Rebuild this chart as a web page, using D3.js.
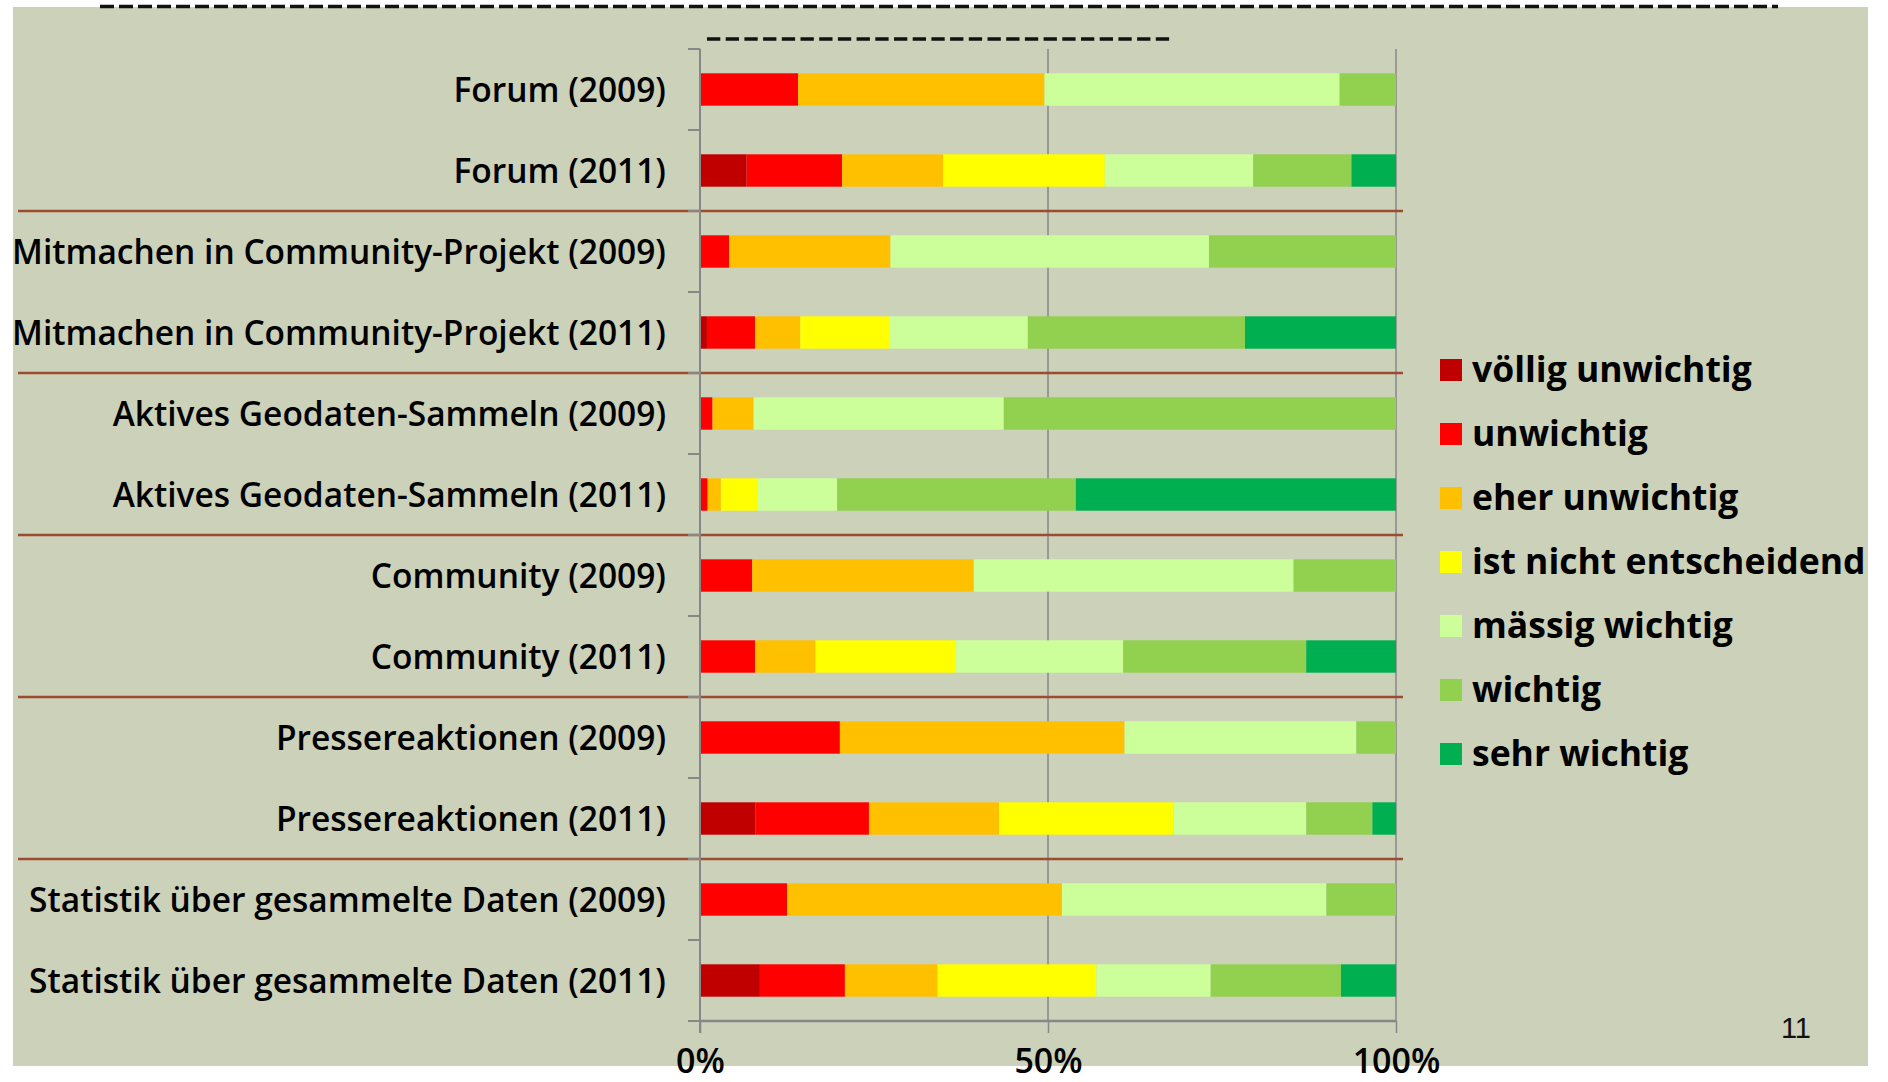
<!DOCTYPE html>
<html>
<head>
<meta charset="utf-8">
<script src="https://cdn.jsdelivr.net/npm/d3@7"></script>
<style>
  html, body { margin: 0; padding: 0; background: #fff; }
  svg { display: block; }
  .label { font-family: 'Open Sans', sans-serif; font-weight: 600; fill: #000; }
</style>
</head>
<body>
<svg id="chart"></svg>
<script>
'use strict';

var categories = [
  'Forum (2009)',
  'Forum (2011)',
  'Mitmachen in Community-Projekt (2009)',
  'Mitmachen in Community-Projekt (2011)',
  'Aktives Geodaten-Sammeln (2009)',
  'Aktives Geodaten-Sammeln (2011)',
  'Community (2009)',
  'Community (2011)',
  'Pressereaktionen (2009)',
  'Pressereaktionen (2011)',
  'Statistik über gesammelte Daten (2009)',
  'Statistik über gesammelte Daten (2011)'
];

var seriesNames = [
  'völlig unwichtig',
  'unwichtig',
  'eher unwichtig',
  'ist nicht entscheidend',
  'mässig wichtig',
  'wichtig',
  'sehr wichtig'
];

var seriesColors = ['#C00000', '#FF0000', '#FFC000', '#FFFF00', '#CCFF99', '#92D050', '#00B050'];

/* values in percent, one entry per category */
var vollig = [0, 6.7, 0, 1.0, 0, 0, 0, 0, 0, 8.0, 0, 8.6];
var unwichtig = [14.1, 13.7, 4.2, 6.9, 1.8, 1.1, 7.5, 7.9, 20.1, 16.3, 12.5, 12.2];
var eherUnwichtig = [35.4, 14.5, 23.2, 6.5, 5.9, 1.9, 31.8, 8.7, 40.9, 18.7, 39.5, 13.3];
var nichtEntscheidend = [0, 23.2, 0, 12.9, 0, 5.3, 0, 20.2, 0, 25.1, 0, 22.8];
var massigWichtig = [42.4, 21.3, 45.8, 19.8, 35.9, 11.4, 45.9, 24.0, 33.3, 19.1, 38.0, 16.4];
var wichtig = [8.1, 14.1, 26.9, 31.2, 56.3, 34.3, 14.7, 26.3, 5.7, 9.5, 10.0, 18.7];
var sehrWichtig = [0, 6.4, 0, 21.7, 0, 46.0, 0, 12.9, 0, 3.4, 0, 7.9];

var xTicks = [0, 0.5, 1];

var seriesValues = [vollig, unwichtig, eherUnwichtig, nichtEntscheidend,
  massigWichtig, wichtig, sehrWichtig];

var width = 1888;
var height = 1082;

var plot = { left: 700, right: 1396, top: 49, bottom: 1021 };

var svg = d3.select('#chart')
  .attr('width', width)
  .attr('height', height);

/* slide background */
svg.append('rect')
  .attr('x', 13)
  .attr('y', 7)
  .attr('width', 1855)
  .attr('height', 1059)
  .attr('fill', '#CCD1B9');

/* dashed title placeholders */
svg.append('line')
  .attr('x1', 100).attr('x2', 1778)
  .attr('y1', 6.5).attr('y2', 6.5)
  .attr('stroke', '#111')
  .attr('stroke-width', 3.5)
  .attr('stroke-dasharray', '14,5');

svg.append('line')
  .attr('x1', 707).attr('x2', 1170)
  .attr('y1', 39).attr('y2', 39)
  .attr('stroke', '#111')
  .attr('stroke-width', 3.5)
  .attr('stroke-dasharray', '13.3,5.4');

/* rows for the stack */
var rows = categories.map(function(c, i) {
  var row = { category: c };
  seriesNames.forEach(function(s, j) { row[s] = seriesValues[j][i]; });
  return row;
});

var stack = d3.stack()
  .keys(seriesNames)
  .offset(d3.stackOffsetExpand);
var layers = stack(rows);

var x = d3.scaleLinear()
  .domain([0, 1])
  .range([plot.left, plot.right]);

var y = d3.scaleBand()
  .domain(categories)
  .range([plot.top, plot.bottom])
  .paddingInner(0.6)
  .paddingOuter(0.3);

var color = d3.scaleOrdinal()
  .domain(seriesNames)
  .range(seriesColors);

var step = y.step();
var bandTop = function(c) { return y(c) - y.paddingOuter() * step; };

/* vertical grid lines */
svg.append('g')
  .selectAll('line')
  .data(xTicks.slice(1))
  .enter().append('line')
    .attr('x1', function(d) { return x(d); })
    .attr('x2', function(d) { return x(d); })
    .attr('y1', plot.top)
    .attr('y2', plot.bottom)
    .attr('stroke', '#878787')
    .attr('stroke-width', 1.5);

/* bars */
svg.append('g')
  .selectAll('g')
  .data(layers)
  .enter().append('g')
    .attr('fill', function(d) { return color(d.key); })
  .selectAll('rect')
  .data(function(d) { return d; })
  .enter().append('rect')
    .attr('x', function(d) { return x(d[0]); })
    .attr('width', function(d) { return x(d[1]) - x(d[0]); })
    .attr('y', function(d) { return y(d.data.category); })
    .attr('height', y.bandwidth());

/* group separators between survey topics */
svg.append('g')
  .selectAll('line')
  .data(categories.filter(function(c, i) { return i > 0 && i % 2 === 0; }))
  .enter().append('line')
    .attr('x1', 18)
    .attr('x2', 1403)
    .attr('y1', function(c) { return bandTop(c); })
    .attr('y2', function(c) { return bandTop(c); })
    .attr('stroke', '#9C4A30')
    .attr('stroke-width', 2.5);

/* category axis with ticks on band boundaries */
var yAxisG = svg.append('g');
yAxisG.append('line')
  .attr('x1', plot.left).attr('x2', plot.left)
  .attr('y1', plot.top).attr('y2', plot.bottom + 12)
  .attr('stroke', '#878787')
  .attr('stroke-width', 2);

yAxisG.selectAll('.tick')
  .data(d3.range(categories.length + 1))
  .enter().append('line')
    .attr('class', 'tick')
    .attr('x1', plot.left - 12)
    .attr('x2', plot.left)
    .attr('y1', function(i) { return plot.top + i * step; })
    .attr('y2', function(i) { return plot.top + i * step; })
    .attr('stroke', '#878787')
    .attr('stroke-width', 2);

yAxisG.selectAll('text')
  .data(categories)
  .enter().append('text')
    .attr('class', 'label')
    .attr('x', plot.left - 34)
    .attr('y', function(c) { return y(c) + y.bandwidth() / 2 + 12.5; })
    .attr('text-anchor', 'end')
    .style('font-size', '33.5px')
    .text(function(c) { return c; });

/* value axis */
var xAxis = d3.axisBottom(x)
  .tickValues(xTicks)
  .tickFormat(d3.format('.0%'))
  .tickSize(12)
  .tickPadding(22);

var xAxisG = svg.append('g')
  .attr('transform', 'translate(0,' + plot.bottom + ')')
  .call(xAxis);

xAxisG.select('.domain')
  .attr('d', 'M' + plot.left + ',0H' + plot.right)
  .attr('stroke', '#878787')
  .attr('stroke-width', 2.5);
xAxisG.selectAll('.tick line')
  .attr('stroke', '#878787')
  .attr('stroke-width', 1.5);
xAxisG.selectAll('.tick text')
  .attr('class', 'label')
  .attr('dy', null)
  .attr('y', 52)
  .style('font-size', '34px')
  .style('font-family', "'Open Sans', sans-serif")
  .style('font-weight', 600)
  .attr('fill', '#000');

/* legend */
var legend = svg.append('g')
  .attr('transform', 'translate(1440,359)');

var item = legend.selectAll('g')
  .data(seriesNames)
  .enter().append('g')
    .attr('transform', function(d, i) { return 'translate(0,' + (i * 64) + ')'; });

item.append('rect')
  .attr('width', 22)
  .attr('height', 22)
  .attr('fill', function(d) { return color(d); });

item.append('text')
  .attr('class', 'label')
  .attr('x', 32)
  .attr('y', 23)
  .style('font-size', '35.5px')
  .style('font-weight', 700)
  .text(function(d) { return d; });

/* slide number */
svg.append('text')
  .attr('x', 1811)
  .attr('y', 1038)
  .attr('text-anchor', 'end')
  .style('font-family', "'Liberation Sans', Arial, sans-serif")
  .style('font-size', '29px')
  .attr('fill', '#111')
  .text('11');
</script>
</body>
</html>
